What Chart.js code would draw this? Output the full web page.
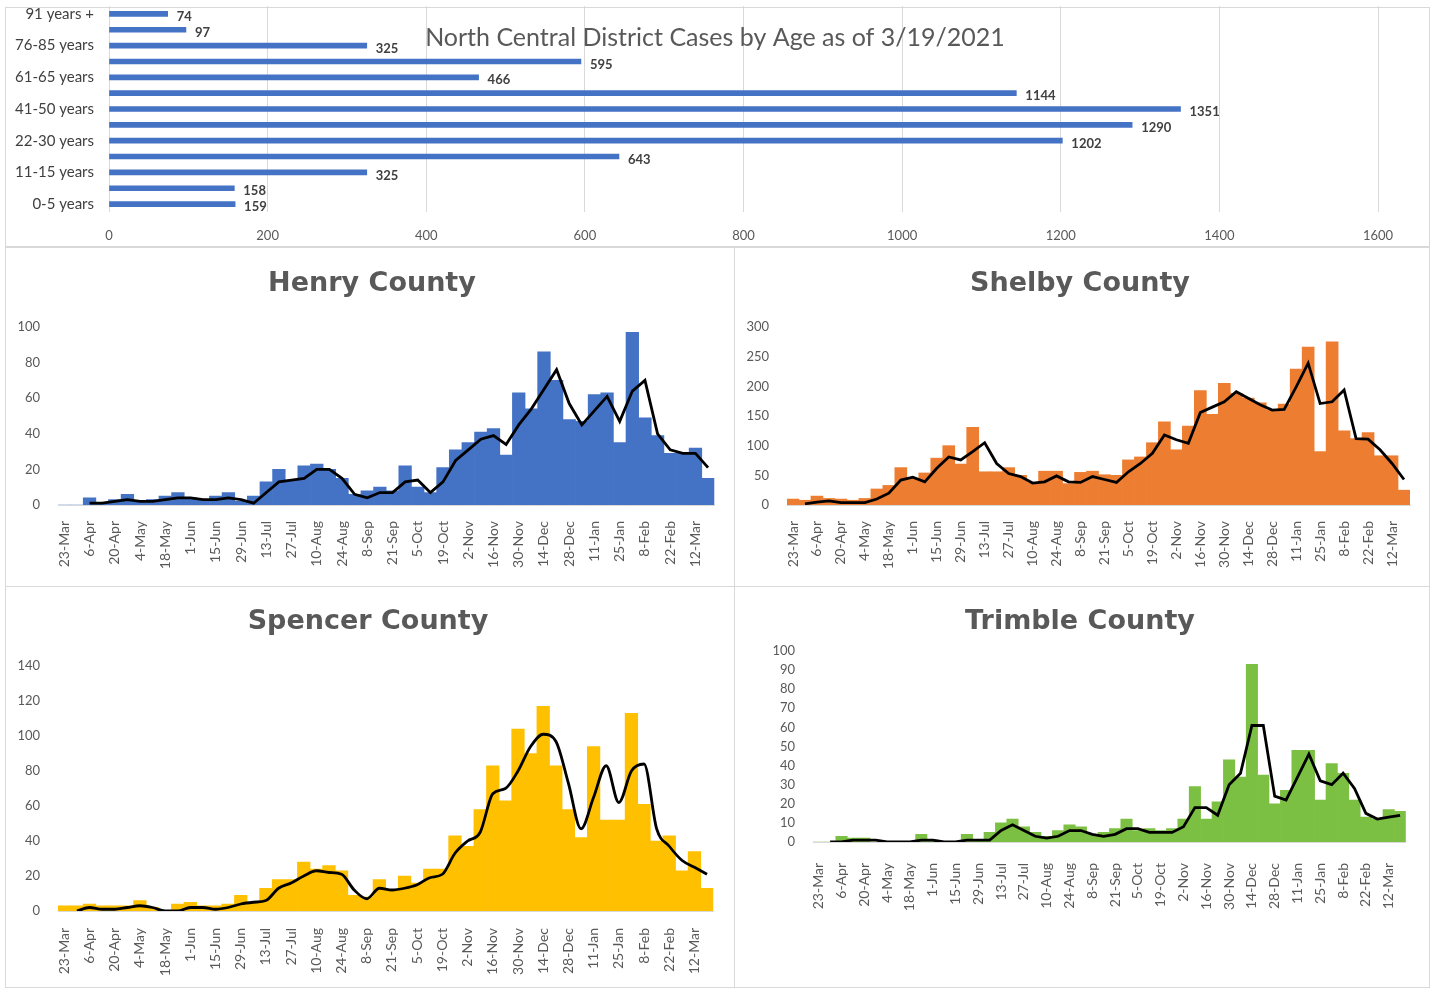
<!DOCTYPE html>
<html>
<head>
<meta charset="utf-8">
<script src="https://cdn.jsdelivr.net/npm/chart.js@4.4.1/dist/chart.umd.min.js"></script>
<style>
  body { margin: 0; background: #fff; width: 1433px; height: 988px; overflow: hidden; position: relative; }
  .frame { position: absolute; border: 1px solid #d9d9d9; box-sizing: border-box; }
  .panel { position: absolute; }
</style>
</head>
<body>
<div class="frame" style="left:5px;top:7px;width:1425px;height:240px"></div>
<div class="frame" style="left:5px;top:247px;width:730px;height:340px"></div>
<div class="frame" style="left:734px;top:247px;width:696px;height:340px"></div>
<div class="frame" style="left:5px;top:586px;width:730px;height:402px"></div>
<div class="frame" style="left:734px;top:586px;width:696px;height:402px"></div>

<div class="panel" style="left:5px;top:-3px"><canvas id="age-chart" width="1425" height="248"></canvas></div>
<div class="panel" style="left:5px;top:248px"><canvas id="henry-chart" width="728" height="337"></canvas></div>
<div class="panel" style="left:735px;top:248px"><canvas id="shelby-chart" width="695" height="337"></canvas></div>
<div class="panel" style="left:5px;top:588px"><canvas id="spencer-chart" width="728" height="400"></canvas></div>
<div class="panel" style="left:735px;top:588px"><canvas id="trimble-chart" width="695" height="400"></canvas></div>

<script>
// age groups (bottom to top) and total cases
const ageGroups = ["0-5 years", "6-10 years", "11-15 years", "16-21 years", "22-30 years", "31-40 years",
  "41-50 years", "51-60 years", "61-65 years", "66-75 years", "76-85 years", "86-90 years", "91 years +"];
const ageCases = [159, 158, 325, 643, 1202, 1290, 1351, 1144, 466, 595, 325, 97, 74];
const ageTicks = [0, 200, 400, 600, 800, 1000, 1200, 1400, 1600];

// weekly categories, every other one is shown on the axis
const weeks = ["23-Mar", "30-Mar", "6-Apr", "13-Apr", "20-Apr", "27-Apr", "4-May", "11-May", "18-May", "25-May",
  "1-Jun", "8-Jun", "15-Jun", "22-Jun", "29-Jun", "6-Jul", "13-Jul", "20-Jul", "27-Jul", "3-Aug",
  "10-Aug", "17-Aug", "24-Aug", "31-Aug", "8-Sep", "14-Sep", "21-Sep", "28-Sep", "5-Oct", "12-Oct",
  "19-Oct", "26-Oct", "2-Nov", "9-Nov", "16-Nov", "23-Nov", "30-Nov", "7-Dec", "14-Dec", "21-Dec",
  "28-Dec", "4-Jan", "11-Jan", "18-Jan", "25-Jan", "1-Feb", "8-Feb", "15-Feb", "22-Feb", "1-Mar",
  "12-Mar", "19-Mar"];

const henryCases = [0, 0, 4, 1, 3, 6, 2, 3, 5, 7, 4, 3, 5, 7, 2, 5, 13, 20, 14, 22, 23, 20, 15, 6, 8, 10,
  8, 22, 10, 7, 21, 31, 35, 41, 43, 28, 63, 54, 86, 70, 48, 47, 62, 63, 35, 97, 49, 39, 29, 29, 32, 15];
const henryAvg = [null, null, 1, 1, 2, 3, 2, 2, 3, 4, 4, 3, 3, 4, 3, 1, 7, 13, 14, 15, 20, 20, 15, 6, 4, 7,
  7, 13, 14, 7, 13, 25, 31, 37, 39, 34, 45, 54, 65, 76, 57, 45, 53, 61, 47, 64, 70, 40, 31, 29, 29, 21];

const shelbyCases = [10, 8, 15, 11, 10, 8, 11, 27, 33, 63, 45, 54, 79, 100, 69, 131, 56, 56, 63, 50, 38, 57,
  57, 36, 55, 57, 51, 50, 76, 81, 105, 140, 93, 133, 193, 153, 205, 188, 180, 172, 160, 170, 229, 266, 90,
  275, 125, 112, 122, 83, 83, 25];
const shelbyAvg = [null, 2, 5, 7, 4, 4, 4, 10, 20, 42, 47, 39, 62, 81, 76, 90, 105, 70, 53, 48, 37, 39, 49,
  39, 38, 48, 43, 38, 56, 70, 87, 118, 110, 104, 156, 165, 174, 191, 180, 169, 160, 161, 199, 239, 171,
  174, 194, 112, 111, 93, 70, 43];

const spencerCases = [3, 3, 4, 3, 3, 3, 6, 2, 0, 4, 5, 3, 3, 4, 9, 5, 13, 18, 18, 28, 24, 26, 23, 9, 8, 18,
  12, 20, 16, 24, 24, 43, 37, 58, 83, 63, 104, 90, 117, 83, 58, 42, 94, 52, 52, 113, 61, 40, 43, 23, 34, 13];
const spencerAvg = [null, 0, 2, 1, 1, 2, 3, 2, 0, 0, 2, 2, 1, 2, 4, 5, 6, 13, 16, 20, 23, 22, 21, 12, 7, 13,
  12, 13, 15, 19, 21, 33, 40, 45, 67, 70, 80, 94, 101, 97, 73, 47, 65, 83, 62, 80, 84, 47, 37, 29, 25, 21];

const trimbleCases = [0, 0, 3, 2, 2, 0, 0, 0, 0, 4, 1, 0, 0, 4, 1, 5, 10, 12, 8, 5, 3, 6, 9, 8, 4, 5, 7, 12,
  6, 7, 6, 7, 12, 29, 12, 21, 43, 34, 93, 35, 20, 27, 48, 48, 22, 41, 36, 22, 13, 12, 17, 16];
const trimbleAvg = [null, 0, 0, 1, 1, 1, 0, 0, 0, 1, 1, 0, 0, 1, 1, 1, 6, 9, 6, 3, 2, 3, 6, 6, 4, 3, 4, 7, 7,
  5, 5, 5, 8, 18, 18, 14, 30, 36, 61, 61, 24, 22, 34, 46, 32, 30, 36, 28, 15, 12, 13, 14];

const FONT = "Lato, 'Open Sans', sans-serif";
const TITLE_FONT = "'DejaVu Sans', Verdana, sans-serif";
const GREY = "#595959";

// Age chart: value labels at bar ends + overlay title
const ageLabels = {
  id: "ageLabels",
  afterDatasetsDraw(chart) {
    const ctx = chart.ctx;
    ctx.save();
    ctx.font = "bold 13px " + FONT;
    ctx.fillStyle = "#404040";
    ctx.textBaseline = "middle";
    chart.getDatasetMeta(0).data.forEach((bar, i) => {
      ctx.fillText(chart.data.datasets[0].data[i], bar.x + 9, bar.y + 3);
    });
    ctx.restore();
  },
  afterDraw(chart) {
    const ctx = chart.ctx;
    ctx.save();
    ctx.font = "25px " + FONT;
    ctx.fillStyle = GREY;
    ctx.textAlign = "center";
    ctx.textBaseline = "middle";
    ctx.fillText("North Central District Cases by Age as of 3/19/2021", 710, 41);
    ctx.restore();
  },
};

new Chart(document.getElementById("age-chart"), {
  type: "bar",
  data: {
    labels: ageGroups,
    datasets: [{ data: ageCases, backgroundColor: "#4472C4", barThickness: 5 }],
  },
  options: {
    indexAxis: "y",
    responsive: false,
    animation: false,
    layout: { padding: { top: 1, right: 52 } },
    plugins: { legend: { display: false }, tooltip: { enabled: false } },
    scales: {
      x: {
        min: ageTicks[0],
        max: ageTicks[ageTicks.length - 1],
        afterBuildTicks: (s) => { s.ticks = ageTicks.map((v) => ({ value: v })); },
        afterFit: (s) => { s.height = 33; },
        grid: { color: "#d9d9d9", drawTicks: false },
        border: { display: false },
        ticks: {
          padding: 16,
          color: GREY,
          font: { family: FONT, size: 13 },
          callback: (v) => String(v),
        },
      },
      y: {
        reverse: true,
        afterFit: (s) => { s.width = 104; },
        grid: { drawOnChartArea: false, drawTicks: true, tickLength: 15, tickColor: "rgba(0,0,0,0)" },
        border: { display: false },
        ticks: {
          autoSkip: false,
          padding: 0,
          color: "#404040",
          font: { family: FONT, size: 15 },
          callback: (v, i) => (i % 2 === 0 ? ageGroups[i] : ""),
        },
      },
    },
  },
  plugins: [ageLabels],
});

// county title drawn at a fixed centre over the panel
const countyTitle = {
  id: "countyTitle",
  afterDraw(chart, args, opts) {
    const ctx = chart.ctx;
    ctx.save();
    ctx.font = "bold 27px " + TITLE_FONT;
    ctx.fillStyle = GREY;
    ctx.textAlign = "center";
    ctx.textBaseline = "middle";
    ctx.fillText(opts.text, opts.x, opts.y);
    ctx.restore();
  },
};

function countyChart(id, title, cases, avg, color, yMax, yStep, box, smooth) {
  return new Chart(document.getElementById(id), {
    type: "bar",
    data: {
      labels: weeks,
      datasets: [
        {
          type: "line",
          data: avg,
          borderColor: "#000000",
          borderWidth: 2.8,
          pointRadius: 0,
          cubicInterpolationMode: smooth ? "monotone" : "default",
          tension: 0,
          order: 0,
        },
        {
          data: cases,
          backgroundColor: color,
          barPercentage: 1,
          categoryPercentage: 1,
          borderWidth: 0,
          order: 1,
        },
      ],
    },
    options: {
      responsive: false,
      animation: false,
      layout: { padding: { top: box.plotTop - box.top, right: box.right - box.plotRight } },
      plugins: {
        legend: { display: false },
        tooltip: { enabled: false },
        countyTitle: { text: title, x: box.titleX - box.left, y: box.titleY - box.top },
      },
      scales: {
        x: {
          afterFit: (s) => { s.height = box.bottom - box.plotBottom; },
          grid: { display: false },
          border: { color: "#d9d9d9" },
          ticks: {
            autoSkip: false,
            maxRotation: 90,
            minRotation: 90,
            padding: box.labelPad,
            color: GREY,
            font: { family: FONT, size: 14 },
            callback: (v, i) => (i % 2 === 0 ? weeks[i] : ""),
          },
        },
        y: {
          min: 0,
          max: yMax,
          afterFit: (s) => { s.width = box.plotLeft - box.left; },
          grid: { display: false },
          border: { display: false },
          ticks: { stepSize: yStep, padding: 10, color: GREY, font: { family: FONT, size: 13 } },
        },
      },
    },
    plugins: [countyTitle],
  });
}

countyChart("henry-chart", "Henry County", henryCases, henryAvg, "#4472C4", 100, 20,
  { left: 5, top: 248, right: 733, bottom: 585, plotLeft: 58, plotRight: 720, plotTop: 327, plotBottom: 505, titleX: 372, titleY: 284, labelPad: 8 }, false);
countyChart("shelby-chart", "Shelby County", shelbyCases, shelbyAvg, "#ED7D31", 300, 50,
  { left: 735, top: 248, right: 1430, bottom: 585, plotLeft: 787, plotRight: 1410, plotTop: 327, plotBottom: 505, titleX: 1080, titleY: 284, labelPad: 8 }, false);
countyChart("spencer-chart", "Spencer County", spencerCases, spencerAvg, "#FFC000", 140, 20,
  { left: 5, top: 588, right: 733, bottom: 988, plotLeft: 58, plotRight: 716, plotTop: 666, plotBottom: 911, titleX: 368, titleY: 622, labelPad: 9 }, true);
countyChart("trimble-chart", "Trimble County", trimbleCases, trimbleAvg, "#7CC043", 100, 10,
  { left: 735, top: 588, right: 1430, bottom: 988, plotLeft: 813, plotRight: 1420, plotTop: 651, plotBottom: 842, titleX: 1080, titleY: 622, labelPad: 13 }, false);
</script>
</body>
</html>
